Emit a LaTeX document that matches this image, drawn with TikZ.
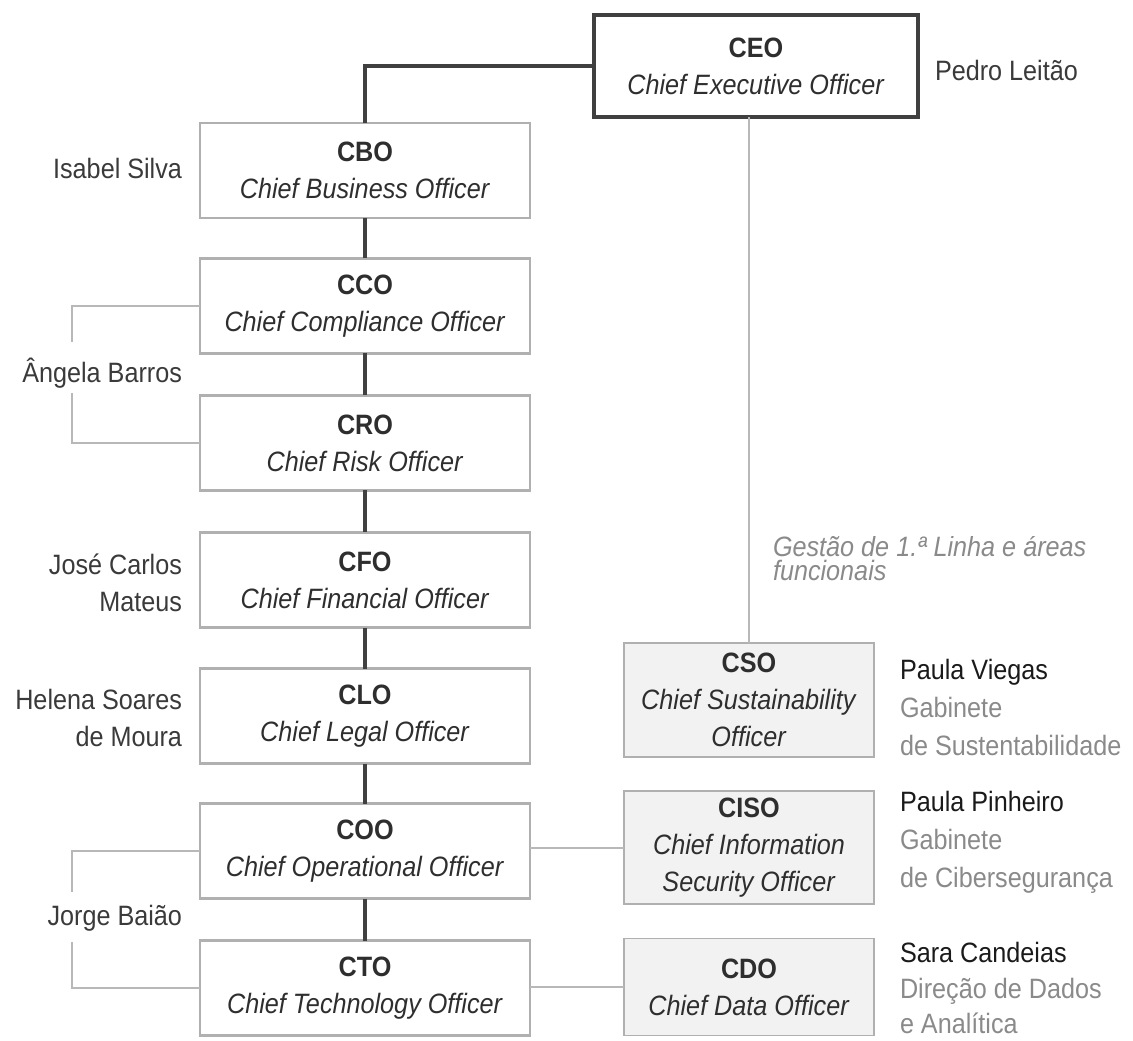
\documentclass[tikz,border=0pt]{standalone}
\usepackage{fontspec}
\setmainfont[FakeStretch=0.9]{Liberation Sans}
\definecolor{darkline}{HTML}{404040}
\definecolor{grayline}{HTML}{B8B8B8}
\definecolor{boxgray}{HTML}{B0B0B0}
\definecolor{fillgray}{HTML}{F2F2F2}
\definecolor{txtc}{HTML}{2E2E2E}
\definecolor{namec}{HTML}{3A3A3A}
\definecolor{blackname}{HTML}{1A1A1A}
\definecolor{deptc}{HTML}{8A8A8A}
\newcommand\gestfont{\fontsize{21}{15}\selectfont\itshape\lineskiplimit=-30pt\relax}
\begin{document}
\begin{tikzpicture}[x=0.75pt,y=-0.75pt,
  every node/.style={inner sep=0pt,outer sep=0pt},
  txt/.style={font=\fontsize{21}{27.75}\selectfont,align=center,text=txtc},
  ceobox/.style={txt,draw=darkline,line width=2.4pt,minimum width=243pt,minimum height=76.5pt},
  lbox/.style={txt,draw=boxgray,line width=1.6pt,minimum width=247.5pt,minimum height=71.25pt},
  rbox/.style={txt,draw=boxgray,fill=fillgray,line width=1.1pt,minimum width=187.5pt},
  lname/.style={font=\fontsize{21}{27.75}\selectfont,align=right,text=namec,anchor=east},
  rname/.style={font=\fontsize{21}{28.5}\selectfont,align=left,text=deptc,anchor=west},
  mainlink/.style={draw=darkline,line width=2.8pt},
  sublink/.style={draw=grayline,line width=1.5pt}]
\useasboundingbox (0,0) rectangle (1133,1041);

% top
\node[ceobox] (CEO) at (756,66) {\textbf{CEO}\\\textit{Chief Executive Officer}};
\node[font=\fontsize{21}{27.75}\selectfont,text=namec,anchor=west] (pedro) at (935,70) {Pedro Leitão};

% left column
\node[lbox] (CBO) at (365,170.5) {\textbf{CBO}\\\textit{Chief Business Officer}};
\node[lbox] (CCO) at (365,306) {\textbf{CCO}\\\textit{Chief Compliance Officer}};
\node[lbox] (CRO) at (365,443) {\textbf{CRO}\\\textit{Chief Risk Officer}};
\node[lbox] (CFO) at (365,580) {\textbf{CFO}\\\textit{Chief Financial Officer}};
\node[lbox] (CLO) at (365,716) {\textbf{CLO}\\\textit{Chief Legal Officer}};
\node[lbox] (COO) at (365,851) {\textbf{COO}\\\textit{Chief Operational Officer}};
\node[lbox] (CTO) at (365,988) {\textbf{CTO}\\\textit{Chief Technology Officer}};

% left names
\node[lname] (isabel) at (182,168) {Isabel Silva};
\node[lname] (angela) at (182,373) {Ângela Barros};
\node[lname] (jose) at (182,583) {José Carlos\\Mateus};
\node[lname] (helena) at (182,718) {Helena Soares\\de Moura};
\node[lname] (jorge) at (182,918) {Jorge Baião};

% right column
\node[rbox,minimum height=85.5pt] (CSO) at (749,700) {\textbf{CSO}\\\textit{Chief Sustainability}\\\textit{Officer}};
\node[rbox,minimum height=84.75pt] (CISO) at (749,847.5) {\textbf{CISO}\\\textit{Chief Information}\\\textit{Security Officer}};
\node[rbox,minimum height=72.75pt] (CDO) at (749,987) {\textbf{CDO}\\\textit{Chief Data Officer}};

% right names
\node[rname] (paulav) at (900,707) {\textcolor{blackname}{Paula Viegas}\\Gabinete\\de Sustentabilidade};
\node[rname] (paulap) at (900,842) {\textcolor{blackname}{Paula Pinheiro}\\Gabinete\\de Cibersegurança};
\node[rname,font=\fontsize{21}{26.3}\selectfont] (sara) at (900,988) {\textcolor{blackname}{Sara Candeias}\\Direção de Dados\\e Analítica};

% note (top of first line cut off, as in the original)
\begin{scope}
\clip (760,537) rectangle (1133,600);
\node[font=\gestfont,align=left,text=deptc,anchor=north west] (gestao) at (773,536) {Gestão de 1.ª Linha e áreas\\[3pt]funcionais};
\end{scope}

% main links
\draw[mainlink] (CEO.west) -| (CBO.north);
\draw[mainlink] (CBO) -- (CCO);
\draw[mainlink] (CCO) -- (CRO);
\draw[mainlink] (CRO) -- (CFO);
\draw[mainlink] (CFO) -- (CLO);
\draw[mainlink] (CLO) -- (COO);
\draw[mainlink] (COO) -- (CTO);

% gray links
\draw[sublink] (CSO.north) -- (CSO.north |- CEO.south);
\draw[sublink] (CISO.west -| COO.east) -- (CISO.west);
\draw[sublink] (CDO.west -| CTO.east) -- (CDO.west);

% brackets
\coordinate (ab1) at (72,342);
\coordinate (ab2) at (72,393);
\coordinate (jb1) at (72,892);
\coordinate (jb2) at (72,942);
\draw[sublink] (CCO.west) -| (ab1);
\draw[sublink] (ab2) |- (CRO.west);
\draw[sublink] (COO.west) -| (jb1);
\draw[sublink] (jb2) |- (CTO.west);
\end{tikzpicture}
\end{document}
